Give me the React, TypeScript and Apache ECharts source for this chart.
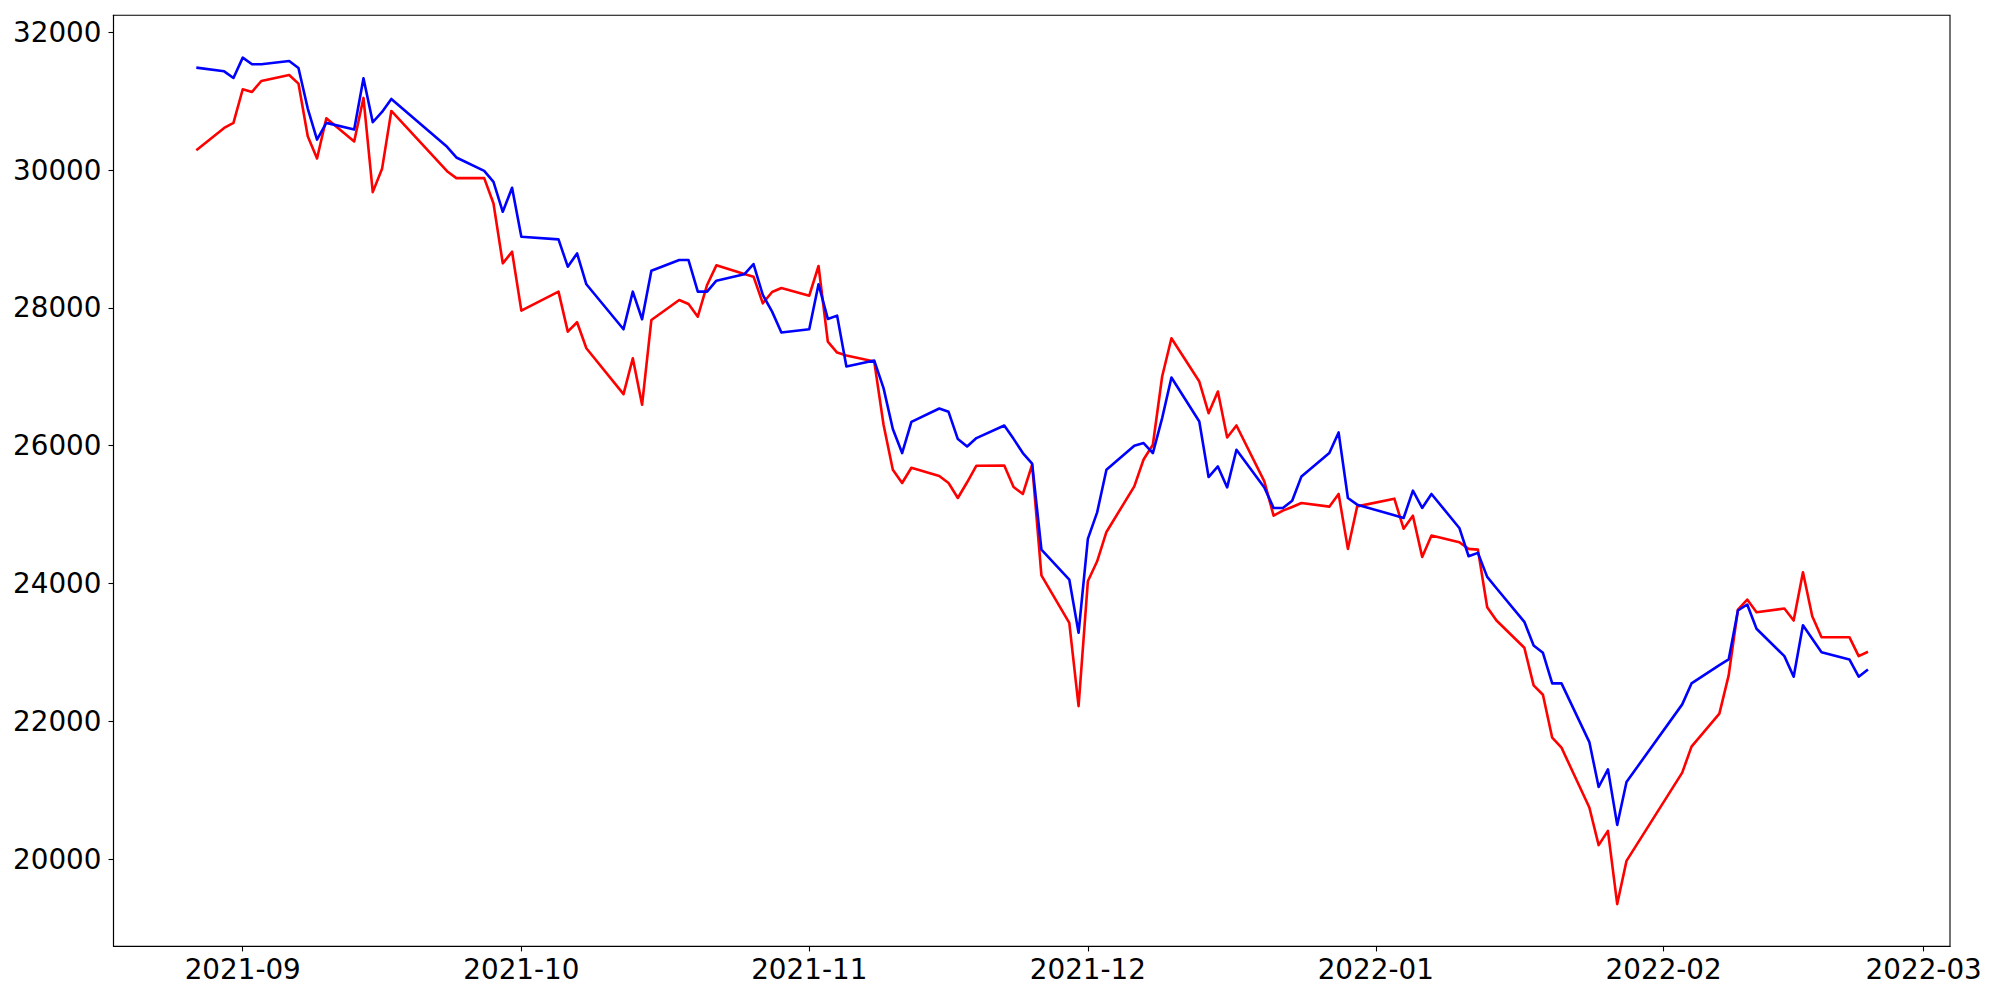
import React, { useEffect, useRef } from "react";
import * as echarts from "echarts";

const dates: string[] = [
  "2021-08-27","2021-08-30","2021-08-31","2021-09-01","2021-09-02","2021-09-03","2021-09-06","2021-09-07","2021-09-08","2021-09-09","2021-09-10",
  "2021-09-13","2021-09-14","2021-09-15","2021-09-16","2021-09-17","2021-09-23","2021-09-24","2021-09-27","2021-09-28","2021-09-29","2021-09-30",
  "2021-10-01","2021-10-05","2021-10-06","2021-10-07","2021-10-08","2021-10-12","2021-10-13","2021-10-14","2021-10-15","2021-10-18","2021-10-19",
  "2021-10-20","2021-10-21","2021-10-22","2021-10-25","2021-10-26","2021-10-27","2021-10-28","2021-10-29",
  "2021-11-01","2021-11-02","2021-11-03","2021-11-04","2021-11-05","2021-11-08","2021-11-09","2021-11-10","2021-11-11","2021-11-12",
  "2021-11-15","2021-11-16","2021-11-17","2021-11-18","2021-11-19","2021-11-22","2021-11-23","2021-11-24","2021-11-25","2021-11-26",
  "2021-11-29","2021-11-30","2021-12-01","2021-12-02","2021-12-03","2021-12-06","2021-12-07","2021-12-08","2021-12-09","2021-12-10",
  "2021-12-13","2021-12-14","2021-12-15","2021-12-16","2021-12-17","2021-12-20","2021-12-21","2021-12-22","2021-12-23","2021-12-24",
  "2021-12-27","2021-12-28","2021-12-29","2021-12-30","2022-01-03","2022-01-04","2022-01-05","2022-01-06","2022-01-07",
  "2022-01-10","2022-01-11","2022-01-12","2022-01-13","2022-01-14","2022-01-17","2022-01-18","2022-01-19","2022-01-20","2022-01-21",
  "2022-01-24","2022-01-25","2022-01-26","2022-01-27","2022-01-28","2022-02-03","2022-02-04","2022-02-07","2022-02-08","2022-02-09",
  "2022-02-10","2022-02-11","2022-02-14","2022-02-15","2022-02-16","2022-02-17","2022-02-18","2022-02-21","2022-02-22","2022-02-23",
];

const redValues: number[] = [
  30289, 30612, 30684, 31173, 31134, 31293, 31380, 31255, 30492, 30168, 30752,
  30415, 31047, 29680, 30018, 30858, 29984, 29883, 29883, 29516, 28647, 28815,
  27960, 28236, 27656, 27792, 27415, 26749, 27270, 26594, 27825, 28115, 28057,
  27873, 28333, 28618, 28492, 28453, 28067, 28231, 28289,
  28178, 28608, 27511, 27352, 27308, 27221, 26304, 25652, 25459, 25681,
  25560, 25459, 25242, 25470, 25710, 25714, 25401, 25300, 25724, 24120,
  23430, 22222, 24033, 24323, 24749, 25410, 25800, 26014, 27004, 27560,
  26932, 26473, 26787, 26120, 26294, 25482, 24985, 25058, 25111, 25169,
  25116, 25300, 24503, 25120, 25232, 24797, 24985, 24387, 24696,
  24599, 24503, 24493, 23657, 23464, 23068, 22522, 22387, 21764, 21619,
  20750, 20204, 20411, 19349, 19976, 21257, 21634, 22112, 22667, 23623,
  23768, 23584, 23638, 23464, 24164, 23526, 23222, 23222, 22947, 23010,
];

const blueValues: number[] = [
  31487, 31433, 31337, 31632, 31535, 31535, 31583, 31482, 30893, 30443, 30685,
  30588, 31332, 30694, 30844, 31033, 30337, 30183, 29989, 29830, 29395, 29743,
  29033, 28994, 28598, 28791, 28343, 27690, 28236, 27835, 28540, 28695, 28695,
  28236, 28236, 28395, 28487, 28637, 28188, 27946, 27642,
  27690, 28343, 27840, 27888, 27149, 27236, 26836, 26242, 25894, 26347,
  26540, 26492, 26097, 25990, 26111, 26294, 26100, 25894, 25739, 24493,
  24058, 23286, 24648, 25033, 25652, 26000, 26038, 25894, 26401, 26990,
  26352, 25546, 25700, 25395, 25942, 25395, 25097, 25097, 25203, 25555,
  25894, 26193, 25242, 25145, 24990, 24952, 25348, 25097, 25300,
  24807, 24396, 24445, 24097, 23932, 23445, 23102, 22996, 22551, 22551,
  21700, 21048, 21305, 20498, 21121, 22247, 22551, 22816, 22899, 23609,
  23696, 23344, 22947, 22648, 23396, 23199, 23005, 22899, 22648, 22754,
];

const xTickLabels: string[] = ["2021-09", "2021-10", "2021-11", "2021-12", "2022-01", "2022-02", "2022-03"];
const yTickValues: number[] = [20000, 22000, 24000, 26000, 28000, 30000, 32000];

function toTs(s: string): number {
  const [y, m, d] = s.split("-").map(Number);
  return new Date(y, m - 1, d || 1).getTime();
}

const FONT = "DejaVu Sans";

export default function App() {
  const ref = useRef<HTMLDivElement>(null);

  useEffect(() => {
    if (!ref.current) return;
    const chart = echarts.init(ref.current, undefined, { renderer: "svg" });
    const xTicks = xTickLabels.map((s) => toTs(s + "-01"));
    const redData = dates.map((d, i) => [toTs(d), redValues[i]]);
    const blueData = dates.map((d, i) => [toTs(d), blueValues[i]]);

    const xMin = new Date(2021, 7, 18, 2).getTime();
    const xMax = new Date(2022, 2, 3, 20).getTime();

    chart.setOption({
      animation: false,
      backgroundColor: "#ffffff",
      grid: {
        left: 113.5,
        right: 50,
        top: 15.3,
        bottom: 53.6,
        show: true,
        borderColor: "#000000",
        borderWidth: 1.1,
        backgroundColor: "transparent",
        containLabel: false,
      },
      xAxis: {
        type: "value",
        min: xMin,
        max: xMax,
        axisLine: { show: true, onZero: false, lineStyle: { color: "#000", width: 1.1 } },
        axisTick: { show: true, inside: false, length: 5, lineStyle: { color: "#000", width: 1.1 }, customValues: xTicks },
        axisLabel: {
          show: true,
          customValues: xTicks,
          margin: 9,
          color: "#000",
          fontFamily: FONT,
          fontSize: 27.8,
          formatter: (v: number) => {
            const d = new Date(v);
            return `${d.getFullYear()}-${String(d.getMonth() + 1).padStart(2, "0")}`;
          },
        },
        splitLine: { show: false },
      },
      yAxis: {
        type: "value",
        min: 18735,
        max: 32246,
        axisLine: { show: true, onZero: false, lineStyle: { color: "#000", width: 1.1 } },
        axisTick: { show: true, inside: false, length: 5, lineStyle: { color: "#000", width: 1.1 }, customValues: yTickValues },
        axisLabel: {
          show: true,
          customValues: yTickValues,
          margin: 12,
          color: "#000",
          fontFamily: FONT,
          fontSize: 27.8,
          formatter: (v: number) => String(v),
        },
        splitLine: { show: false },
      },
      series: [
        {
          type: "line",
          data: redData,
          showSymbol: false,
          symbol: "none",
          lineStyle: { color: "#ff0000", width: 2.6, join: "round" },
          itemStyle: { color: "#ff0000" },
          z: 2,
        },
        {
          type: "line",
          data: blueData,
          showSymbol: false,
          symbol: "none",
          lineStyle: { color: "#0000ff", width: 2.6, join: "round" },
          itemStyle: { color: "#0000ff" },
          z: 3,
        },
      ],
    });

    return () => chart.dispose();
  }, []);

  return (
    <div
      ref={ref}
      style={{ position: "fixed", left: 0, top: 0, width: 2000, height: 1000, background: "#fff" }}
    />
  );
}
